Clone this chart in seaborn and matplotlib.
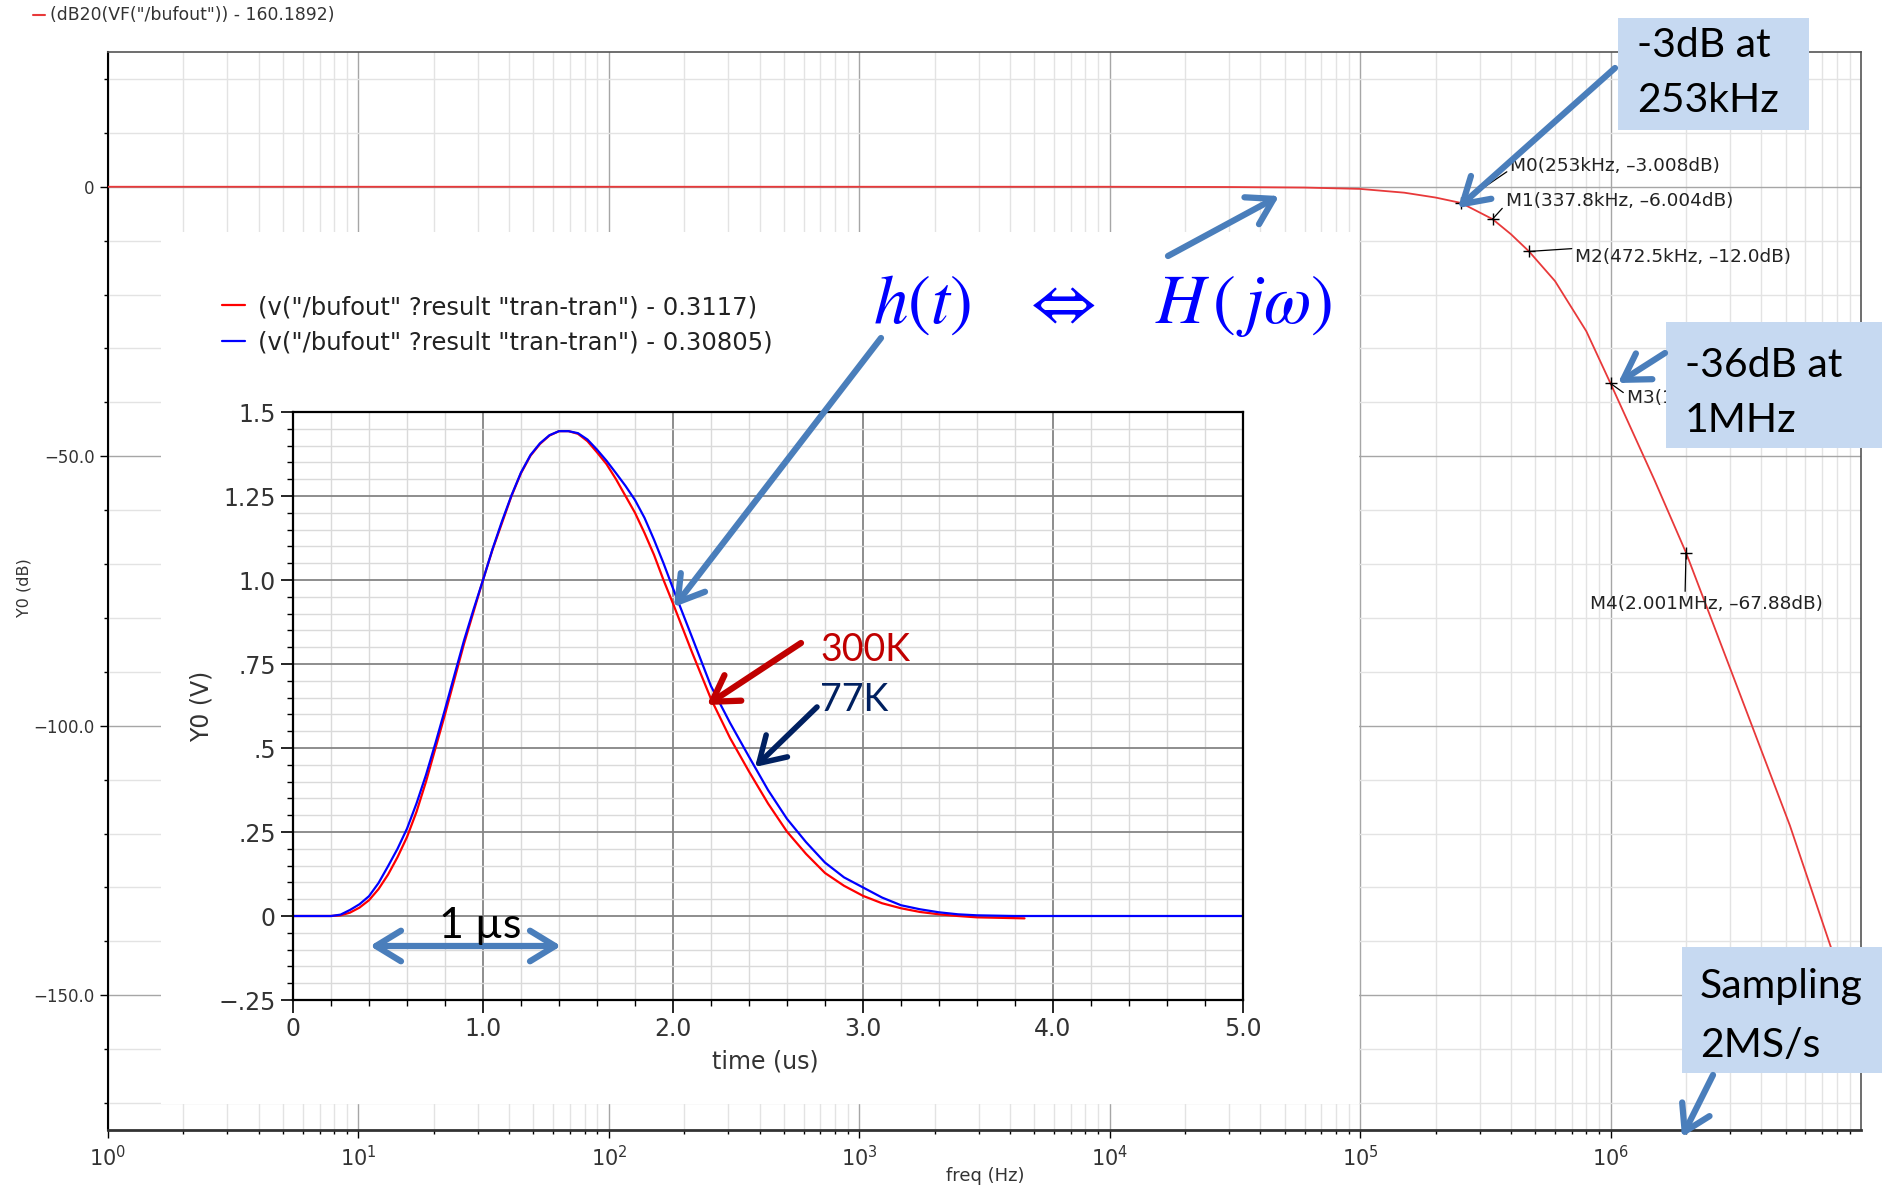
import seaborn as sns
import matplotlib.pyplot as plt, matplotlib as mpl
from matplotlib.patches import Rectangle, FancyArrowPatch
from matplotlib.lines import Line2D
from matplotlib.ticker import FixedLocator, FixedFormatter, MultipleLocator, LogLocator, LogFormatterMathtext, NullFormatter


# AC response (dB) of the buffer output
freq_hz = [1, 10, 100, 1e3, 1e4, 3e4, 6e4, 1e5, 1.5e5, 2e5, 253e3, 337.8e3, 400e3, 472.5e3,
           600e3, 800e3, 1e6, 1.5e6, 2.001e6, 3.34e6, 5.2e6, 7.66e6, 1e7]
gain_db = [0, 0, 0, 0, 0, -0.05, -0.15, -0.4, -1.1, -2.0, -3.008, -6.004, -8.8, -12.0,
           -17.5, -26.8, -36.5, -54.5, -67.88, -95.0, -118.5, -141.7, -157.0]

# markers on the AC curve
marker_freq = [253e3, 337.8e3, 472.5e3, 1e6, 2.001e6]
marker_db = [-3.008, -6.004, -12.0, -36.5, -67.88]
marker_text = ['M0(253kHz, \u20133.008dB)', 'M1(337.8kHz, \u20136.004dB)', 'M2(472.5kHz, \u201312.0dB)',
               'M3(1.000MHz, \u201336.5dB)', 'M4(2.001MHz, \u201367.88dB)']

# transient pulse response, 300K and 77K
t_300k = [0, 0.2, 0.25, 0.3, 0.35, 0.4, 0.45, 0.5, 0.55, 0.6, 0.65, 0.7, 0.75, 0.8, 0.85, 0.9, 0.95,
          1.0, 1.05, 1.1, 1.15, 1.2, 1.25, 1.3, 1.35, 1.4, 1.45, 1.5, 1.55, 1.6, 1.65, 1.7, 1.75, 1.8,
          1.85, 1.9, 1.95, 2.0, 2.1, 2.2, 2.3, 2.4, 2.5, 2.6, 2.7, 2.8, 2.9, 3.0, 3.1, 3.2, 3.3, 3.4,
          3.5, 3.6, 3.85]
v_300k = [0, 0, 0.002, 0.01, 0.025, 0.047, 0.08, 0.123, 0.175, 0.235, 0.31, 0.40, 0.50, 0.60, 0.705,
          0.81, 0.905, 1.0, 1.09, 1.17, 1.25, 1.318, 1.37, 1.405, 1.43, 1.443, 1.443, 1.435, 1.413,
          1.38, 1.345, 1.30, 1.25, 1.20, 1.14, 1.075, 1.0, 0.93, 0.785, 0.646, 0.53, 0.43, 0.335,
          0.251, 0.185, 0.128, 0.09, 0.06, 0.038, 0.023, 0.012, 0.005, 0.0, -0.004, -0.007]
t_77k = [0, 0.2, 0.25, 0.3, 0.35, 0.4, 0.45, 0.5, 0.55, 0.6, 0.65, 0.7, 0.75, 0.8, 0.85, 0.9, 0.95,
         1.0, 1.05, 1.1, 1.15, 1.2, 1.25, 1.3, 1.35, 1.4, 1.45, 1.5, 1.55, 1.6, 1.65, 1.7, 1.75, 1.8,
         1.85, 1.9, 1.95, 2.0, 2.1, 2.2, 2.3, 2.4, 2.5, 2.6, 2.7, 2.8, 2.9, 3.0, 3.1, 3.2, 3.3, 3.4,
         3.5, 3.6, 3.8, 5.0]
v_77k = [0, 0, 0.004, 0.018, 0.035, 0.059, 0.098, 0.148, 0.2, 0.26, 0.335, 0.42, 0.515, 0.615, 0.718,
         0.82, 0.912, 1.0, 1.092, 1.175, 1.252, 1.32, 1.372, 1.407, 1.431, 1.443, 1.443, 1.437, 1.418,
         1.388, 1.355, 1.318, 1.28, 1.238, 1.185, 1.12, 1.05, 0.975, 0.83, 0.684, 0.575, 0.474, 0.375,
         0.289, 0.22, 0.159, 0.115, 0.085, 0.055, 0.032, 0.02, 0.011, 0.005, 0.002, 0.0, 0.0]

inset_xticks = [0, 1, 2, 3, 4, 5]
inset_xlabels = ['0', '1.0', '2.0', '3.0', '4.0', '5.0']
inset_yticks = [-0.25, 0, 0.25, 0.5, 0.75, 1.0, 1.25, 1.5]
inset_ylabels = ['\u2212.25', '0', '.25', '.5', '.75', '1.0', '1.25', '1.5']
main_yticks = [0, -50, -100, -150]
main_ylabels = ['0', '\u221250.0', '\u2212100.0', '\u2212150.0']


W, H = 1883, 1189
def fx(px): return px / W
def fy(py): return 1 - py / H

sns.set_theme(style='white')
plt.rcParams['font.family'] = ['DejaVu Sans']
CAL = ['Lato', 'DejaVu Sans']
ARROW_BLUE = '#4a7ebb'

fig = plt.figure(figsize=(W / 100, H / 100), dpi=100)
fig.patch.set_facecolor('white')

# ---- main AC plot ----
ax = fig.add_axes([fx(108), fy(1130), fx(1861) - fx(108), fy(52) - fy(1130)])
ax.set_xscale('log')
sns.lineplot(x=freq_hz, y=gain_db, ax=ax, color='#e8393a', lw=1.3, estimator=None, zorder=3)
ax.set_xlim(1, 1e7)
ax.set_ylim(-175, 25)
ax.xaxis.set_major_locator(FixedLocator([1e0, 1e1, 1e2, 1e3, 1e4, 1e5, 1e6]))
ax.xaxis.set_major_formatter(LogFormatterMathtext())
ax.xaxis.set_minor_locator(LogLocator(base=10, subs=range(2, 10), numticks=20))
ax.xaxis.set_minor_formatter(NullFormatter())
ax.yaxis.set_major_locator(FixedLocator(main_yticks))
ax.yaxis.set_major_formatter(FixedFormatter(main_ylabels))
ax.yaxis.set_minor_locator(MultipleLocator(10))
ax.set_axisbelow(True)
ax.grid(which='major', color='#a6a6a6', lw=1.0)
ax.grid(which='minor', color='#e3e3e3', lw=1.0)
ax.tick_params(which='major', direction='out', length=6, width=1, color='black',
               labelsize=12, labelcolor='#333333', bottom=True, left=True)
ax.tick_params(axis='x', which='major', labelsize=15, pad=5)
ax.tick_params(which='minor', direction='out', length=3, width=1, color='black', bottom=True, left=True)
ax.set_xlabel('')
ax.set_ylabel('')
for side in ['top', 'right']:
    ax.spines[side].set_color('#555555')
    ax.spines[side].set_linewidth(1.2)
ax.spines['left'].set_color('black')
ax.spines['left'].set_linewidth(1.5)
ax.spines['bottom'].set_color('#333333')
ax.spines['bottom'].set_linewidth(2)

ax.plot(marker_freq, marker_db, ls='none', marker='+', ms=8, mew=1, color='black', zorder=4)
offsets = [(49, 37, 0.0, 0.3, 'left'), (13, 18, 0.0, 0.3, 'left'), (46, -6, 0.0, 1.0, 'left'),
           (16, -15, 0.0, 0.7, 'left'), (20, -51, 0.41, 1.0, 'center')]
for f, d, txt, (dx, dy, rx, ry, ha) in zip(marker_freq, marker_db, marker_text, offsets):
    ax.annotate(txt, xy=(f, d), xytext=(dx, dy), textcoords='offset pixels', ha=ha, va='center',
                fontsize=13.3, color='#222222',
                arrowprops=dict(arrowstyle='-', color='black', lw=0.9, shrinkA=0, shrinkB=0, relpos=(rx, ry)))

fig.text(fx(24), fy(588), 'Y0 (dB)', rotation=90, ha='center', va='center', fontsize=11.5, color='#333333')
fig.text(fx(985), fy(1176), 'freq (Hz)', ha='center', va='center', fontsize=13, color='#333333')
fig.add_artist(Line2D([fx(33), fx(45)], [fy(15), fy(15)], color='#e8393a', lw=1.5))
fig.text(fx(50), fy(15), '(dB20(VF("/bufout")) - 160.1892)', ha='left', va='center', fontsize=12.4, color='#333333')

# white panel where the transient picture sits
fig.add_artist(Rectangle((fx(161), fy(1104)), fx(1359) - fx(161), fy(232) - fy(1104),
                         transform=fig.transFigure, facecolor='white', edgecolor='none', zorder=1))

# ---- inset transient plot ----
ax_in = fig.add_axes([fx(293), fy(1000), fx(1243) - fx(293), fy(412) - fy(1000)], zorder=2)
ax_in.set_facecolor('white')
sns.lineplot(x=t_300k, y=v_300k, ax=ax_in, color='#ff0000', lw=1.6, estimator=None,
             label='(v("/bufout" ?result "tran-tran") - 0.3117)')
sns.lineplot(x=t_77k, y=v_77k, ax=ax_in, color='#0000ff', lw=1.6, estimator=None,
             label='(v("/bufout" ?result "tran-tran") - 0.30805)')
ax_in.set_xlim(0, 5)
ax_in.set_ylim(-0.25, 1.5)
ax_in.xaxis.set_major_locator(FixedLocator(inset_xticks))
ax_in.xaxis.set_major_formatter(FixedFormatter(inset_xlabels))
ax_in.xaxis.set_minor_locator(MultipleLocator(0.2))
ax_in.yaxis.set_major_locator(FixedLocator(inset_yticks))
ax_in.yaxis.set_major_formatter(FixedFormatter(inset_ylabels))
ax_in.yaxis.set_minor_locator(MultipleLocator(0.05))
ax_in.set_axisbelow(True)
ax_in.grid(which='major', color='#858585', lw=1.3)
ax_in.grid(which='minor', color='#dadada', lw=1.0)
ax_in.tick_params(which='major', direction='out', length=9, width=1.2, color='black',
                  labelsize=17, labelcolor='#333333', bottom=True, left=True)
ax_in.tick_params(which='minor', direction='out', length=4, width=1, color='black', bottom=True, left=True)
for side in ax_in.spines:
    ax_in.spines[side].set_color('black')
    ax_in.spines[side].set_linewidth(1.6)
ax_in.set_xlabel('')
ax_in.set_ylabel('')
fig.text(fx(765), fy(1062), 'time (us)', ha='center', va='center', fontsize=17, color='#333333')
fig.text(fx(202), fy(706), 'Y0 (V)', rotation=90, ha='center', va='center', fontsize=17, color='#333333')
ax_in.legend(loc='upper left', bbox_to_anchor=(fx(222), fy(295)), bbox_transform=fig.transFigure,
             frameon=False, fontsize=17.5, handlelength=0.95, handletextpad=0.55, labelspacing=0.49,
             borderpad=0, borderaxespad=0, labelcolor='#222222')

# ---- overlay annotations ----
def arrow(p0, p1, color=ARROW_BLUE, style='->,head_length=0.9,head_width=0.55', lw=4.5):
    fig.add_artist(FancyArrowPatch((fx(p0[0]), fy(p0[1])), (fx(p1[0]), fy(p1[1])), transform=fig.transFigure,
                                   arrowstyle=style, mutation_scale=20, lw=lw, color=color,
                                   shrinkA=0, shrinkB=0, zorder=6, capstyle='round', joinstyle='round'))

boxes = [((1618, 18), (1809, 130), '-3dB at', '253kHz', 1637, 57, 112),
         ((1666, 322), (1883, 448), '-36dB at', '1MHz', 1685, 377, 432),
         ((1682, 947), (1883, 1073), 'Sampling', '2MS/s', 1700, 998, 1057)]
for (x0, y0), (x1, y1), l1, l2, tx, b1, b2 in boxes:
    fig.add_artist(Rectangle((fx(x0), fy(y1)), fx(x1) - fx(x0), fy(y0) - fy(y1), transform=fig.transFigure,
                             facecolor='#c6d9f1', edgecolor='none', zorder=4))
    fig.text(fx(tx), fy(b1), l1, ha='left', va='baseline', fontsize=29.5, family=CAL, color='black', zorder=5)
    fig.text(fx(tx), fy(b2), l2, ha='left', va='baseline', fontsize=29.5, family=CAL, color='black', zorder=5)

arrow((1615, 68), (1458, 208))
arrow((1168, 256), (1279, 196))
arrow((881, 338), (674, 607))
arrow((1665, 353), (1618, 383))
arrow((1713, 1075), (1682, 1137))
arrow((370, 946), (561, 946), style='<->,head_length=0.9,head_width=0.55')
arrow((801, 643), (707, 705), color='#c00000')
arrow((817, 707), (755, 767), color='#002060', lw=4)

fig.text(fx(480), fy(938), '1 \u00b5s', ha='center', va='baseline', fontsize=31, family=CAL, color='black', zorder=7)
fig.text(fx(820), fy(661), '300K', ha='left', va='baseline', fontsize=27, family=CAL, color='#c00000', zorder=7)
fig.text(fx(820), fy(711), '77K', ha='left', va='baseline', fontsize=27, family=CAL, color='#002060', zorder=7)
fig.text(fx(1102), fy(323), r'$h(t)\ \ \ \Leftrightarrow\ \ \ H\,(\,j\omega)$', ha='center', va='baseline',
         fontsize=49.5, math_fontfamily='stix', color='#0000ff', zorder=7)

plt.savefig('out.png', dpi=100)
